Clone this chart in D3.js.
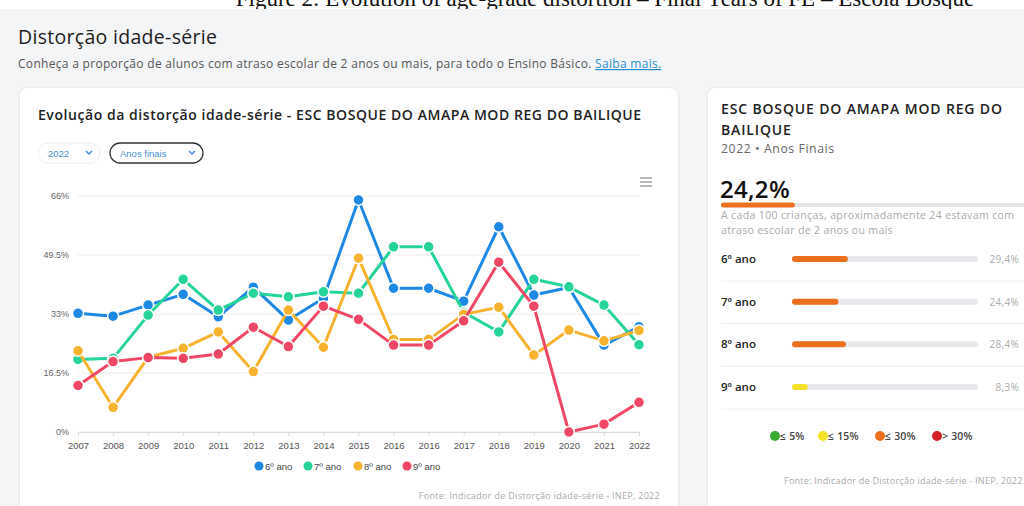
<!DOCTYPE html>
<html>
<head>
<meta charset="utf-8">
<script src="https://cdn.jsdelivr.net/npm/d3@7"></script>
<style>
  html, body { margin: 0; padding: 0; background: #fff; }
  svg { display: block; }
</style>
</head>
<body>
<div id="chart"></div>
<script>
// categories (2016 appears twice in the source)
var years = ["2007","2008","2009","2010","2011","2012","2013","2014","2015","2016","2016","2017","2018","2019","2020","2021","2022"];

// series values, % distortion
var ano6 = [33.2, 32.4, 35.5, 38.5, 32.2, 40.5, 31.3, 37.4, 64.9, 40.2, 40.2, 36.6, 57.4, 38.3, 40.4, 24.3, 29.4];
var ano7 = [20.3, 20.6, 32.7, 42.7, 34.1, 38.8, 37.8, 39.2, 38.8, 51.8, 51.8, 33.5, 28.0, 42.7, 40.6, 35.5, 24.4];
var ano8 = [22.7, 6.9, 20.9, 23.4, 28.0, 16.9, 34.1, 23.7, 48.6, 25.9, 25.9, 32.9, 34.9, 21.5, 28.5, 25.5, 28.4];
var ano9 = [13.0, 19.7, 20.8, 20.6, 21.8, 29.3, 23.9, 35.2, 31.5, 24.3, 24.3, 31.1, 47.5, 35.2, 0.0, 2.2, 8.3];

var seriesNames = ["6º ano", "7º ano", "8º ano", "9º ano"];
var seriesColors = ["#1e88e5", "#26d49a", "#f7b22f", "#f04766"];

var yTicks = [0, 16.5, 33, 49.5, 66];
var yTickLabels = ["0%", "16.5%", "33%", "49.5%", "66%"];

// right panel
var rowNames = ["6º ano", "7º ano", "8º ano", "9º ano"];
var rowValues = [29.4, 24.4, 28.4, 8.3];
var rowLabels = ["29,4%", "24,4%", "28,4%", "8,3%"];
var totalValue = 24.2;
var levelLabels = ["≤ 5%", "≤ 15%", "≤ 30%", "> 30%"];
var levelColors = ["#3aaa35", "#f5e12c", "#eb6f1c", "#d3222a"];
var levelLimits = [5, 15, 30, 100];

var W = 1024, H = 506;
var headFont = "'Open Sans', Lato, sans-serif";
var axisFont = "'Liberation Sans', Arial, sans-serif";

var svg = d3.select("#chart").append("svg")
    .attr("width", W).attr("height", H);

// small helper for the html-ish texts
function label(x, y, txt, size, color, weight, spacing) {
    return svg.append("text").attr("x", x).attr("y", y)
        .style("font-family", headFont).style("font-size", size + "px")
        .style("font-weight", weight || 400)
        .style("letter-spacing", (spacing || 0) + "px")
        .attr("fill", color).text(txt);
}

// page background
svg.append("rect").attr("x", 0).attr("y", 9).attr("width", W).attr("height", H - 9).attr("fill", "#f4f5f7");

// figure caption, cut off at the top like in the source
svg.append("text")
    .attr("x", 605).attr("y", 6)
    .attr("text-anchor", "middle")
    .style("font-family", "'Liberation Serif', 'Times New Roman', serif")
    .style("font-size", "23px").attr("fill", "#111")
    .text("Figure 2: Evolution of age-grade distortion – Final Years of FE – Escola Bosque");
svg.append("rect").attr("x", 0).attr("y", 9).attr("width", W).attr("height", 2).attr("fill", "#f4f5f7");

// header
label(18, 44, "Distorção idade-série", 19.5, "#1f1f1f", 500, 0.3);

var sub = label(18, 68, "", 12, "#555", 400, 0.3);
sub.append("tspan").text("Conheça a proporção de alunos com atraso escolar de 2 anos ou mais, para todo o Ensino Básico. ");
sub.append("tspan").attr("fill", "#2b8fd6").style("text-decoration", "underline").text("Saiba mais.");

// cards
var defs = svg.append("defs");
var f = defs.append("filter").attr("id", "shadow").attr("x", "-5%").attr("y", "-5%").attr("width", "110%").attr("height", "110%");
f.append("feDropShadow").attr("dx", 0).attr("dy", 0).attr("stdDeviation", 1.2).attr("flood-color", "#000").attr("flood-opacity", 0.12);

svg.append("rect").attr("x", 20).attr("y", 88).attr("width", 658).attr("height", 440)
    .attr("rx", 8).attr("fill", "#fff").attr("filter", "url(#shadow)");
svg.append("rect").attr("x", 708).attr("y", 88).attr("width", 330).attr("height", 440)
    .attr("rx", 8).attr("fill", "#fff").attr("filter", "url(#shadow)");

// ---------- left card ----------
label(38, 120, "Evolução da distorção idade-série - ESC BOSQUE DO AMAPA MOD REG DO BAILIQUE", 14, "#222", 600, 0.56);

// dropdowns
function dropdown(x, w, txt, stroke) {
    var g = svg.append("g").attr("transform", "translate(" + x + ",143)");
    g.append("rect").attr("width", w).attr("height", 20).attr("rx", 10)
        .attr("fill", "#fff").attr("stroke", stroke).attr("stroke-width", stroke === "#333" ? 1.3 : 1);
    g.append("text").attr("x", 10).attr("y", 14)
        .style("font-family", axisFont).style("font-size", "9.5px").attr("fill", "#4a8fd4").text(txt);
    g.append("path").attr("d", "M" + (w - 14) + ",8 l3,3 l3,-3")
        .attr("fill", "none").attr("stroke", "#4a8fd4").attr("stroke-width", 1.5);
}
dropdown(38, 62, "2022", "#e6eef8");
dropdown(110, 93, "Anos finais", "#333");

// menu icon
[178, 182, 186].forEach(function (yy) {
    svg.append("line").attr("x1", 640).attr("x2", 652).attr("y1", yy).attr("y2", yy)
        .attr("stroke", "#8a8a8a").attr("stroke-width", 1.2);
});

var x = d3.scalePoint().domain(d3.range(years.length)).range([78, 639]);
var y = d3.scaleLinear().domain([0, 66]).range([432, 196]);

var plot = svg.append("g");

// grid lines
plot.selectAll(".grid").data(yTicks).enter().append("line")
    .attr("x1", 78).attr("x2", 640)
    .attr("y1", function (d) { return y(d); }).attr("y2", function (d) { return y(d); })
    .attr("stroke", "#ececec").attr("stroke-width", 1);

// y axis labels
plot.selectAll(".ylab").data(yTicks).enter().append("text")
    .attr("x", 69).attr("y", function (d) { return y(d) + 3; })
    .attr("text-anchor", "end")
    .style("font-family", axisFont).style("font-size", "9px").attr("fill", "#666")
    .text(function (d, i) { return yTickLabels[i]; });

// x axis
var xAxis = plot.append("g").attr("transform", "translate(0,432)")
    .call(d3.axisBottom(x).tickSize(4).tickPadding(6).tickFormat(function (i) { return years[i]; }));
xAxis.select(".domain").attr("stroke", "#dcdcdc");
xAxis.selectAll(".tick line").attr("stroke", "#dcdcdc");
xAxis.selectAll("text").style("font-family", axisFont).style("font-size", "9.5px").attr("fill", "#555");

var allSeries = [ano6, ano7, ano8, ano9];
var line = d3.line().x(function (d, i) { return x(i); }).y(function (d) { return y(d); });

allSeries.forEach(function (vals, s) {
    var g = plot.append("g");
    g.append("path").datum(vals).attr("d", line)
        .attr("fill", "none").attr("stroke", seriesColors[s]).attr("stroke-width", 3)
        .attr("stroke-linejoin", "round");
    g.selectAll("circle").data(vals).enter().append("circle")
        .attr("cx", function (d, i) { return x(i); })
        .attr("cy", function (d) { return y(d); })
        .attr("r", 5.5)
        .attr("fill", seriesColors[s]).attr("stroke", "#fff").attr("stroke-width", 1.5);
});

// legend
var legendX = [259, 308, 358, 407];
seriesNames.forEach(function (n, i) {
    svg.append("circle").attr("cx", legendX[i]).attr("cy", 466).attr("r", 4.5).attr("fill", seriesColors[i]);
    svg.append("text").attr("x", legendX[i] + 6).attr("y", 469.5)
        .style("font-family", axisFont).style("font-size", "9.5px").attr("fill", "#444").text(n);
});

label(660, 499, "Fonte: Indicador de Distorção idade-série - INEP, 2022", 9, "#aaa", 400, 0.3)
    .attr("text-anchor", "end");

// ---------- right card ----------
label(721, 114, "ESC BOSQUE DO AMAPA MOD REG DO", 14, "#222", 600, 0.85);
label(721, 135, "BAILIQUE", 14, "#222", 600, 0.85);
label(721, 153, "2022 • Anos Finais", 12.3, "#666", 400, 0.55);

label(720, 198, "24,2%", 24, "#111", 600, 0.3);

function levelColor(v) {
    for (var i = 0; i < levelLimits.length; i++) if (v <= levelLimits[i]) return levelColors[i];
    return levelColors[levelColors.length - 1];
}

var big = d3.scaleLinear().domain([0, 100]).range([0, 305]);
svg.append("rect").attr("x", 721).attr("y", 203).attr("width", 310).attr("height", 4).attr("fill", "#e3e3e6");
svg.append("rect").attr("x", 721).attr("y", 202.5).attr("width", big(totalValue)).attr("height", 5)
    .attr("rx", 2.5).attr("fill", levelColor(totalValue));

label(721, 219, "A cada 100 crianças, aproximadamente 24 estavam com", 10.6, "#aaa", 400, 0.32);
label(721, 234, "atraso escolar de 2 anos ou mais", 10.6, "#aaa", 400, 0.32);

var barX = d3.scaleLinear().domain([0, 100]).range([792, 982]);
var rowY = d3.scalePoint().domain(d3.range(rowNames.length)).range([259, 387]);

rowNames.forEach(function (n, i) {
    var cy = rowY(i);
    label(721, cy + 4, n, 11.5, "#222", 600, 0);
    svg.append("rect").attr("x", barX(0)).attr("y", cy - 3).attr("width", 186).attr("height", 6)
        .attr("rx", 3).attr("fill", "#e8e8ec");
    svg.append("rect").attr("x", barX(0)).attr("y", cy - 3).attr("width", barX(rowValues[i]) - barX(0)).attr("height", 6)
        .attr("rx", 3).attr("fill", levelColor(rowValues[i]));
    label(1019, cy + 4, rowLabels[i], 10, "#aaa", 400, 0.3).attr("text-anchor", "end");
    svg.append("line").attr("x1", 721).attr("x2", 1024).attr("y1", cy + 22).attr("y2", cy + 22)
        .attr("stroke", "#eeeeee").attr("stroke-width", 1);
});

var lvlX = [775, 823, 880, 937];
levelLabels.forEach(function (l, i) {
    svg.append("circle").attr("cx", lvlX[i]).attr("cy", 436).attr("r", 5).attr("fill", levelColors[i]);
    label(lvlX[i] + 5, 440, l, 10.5, "#444", 600, 0.2);
});

label(784, 484, "Fonte: Indicador de Distorção idade-série - INEP, 2022", 9, "#aaa", 400, 0.25);
</script>
</body>
</html>
